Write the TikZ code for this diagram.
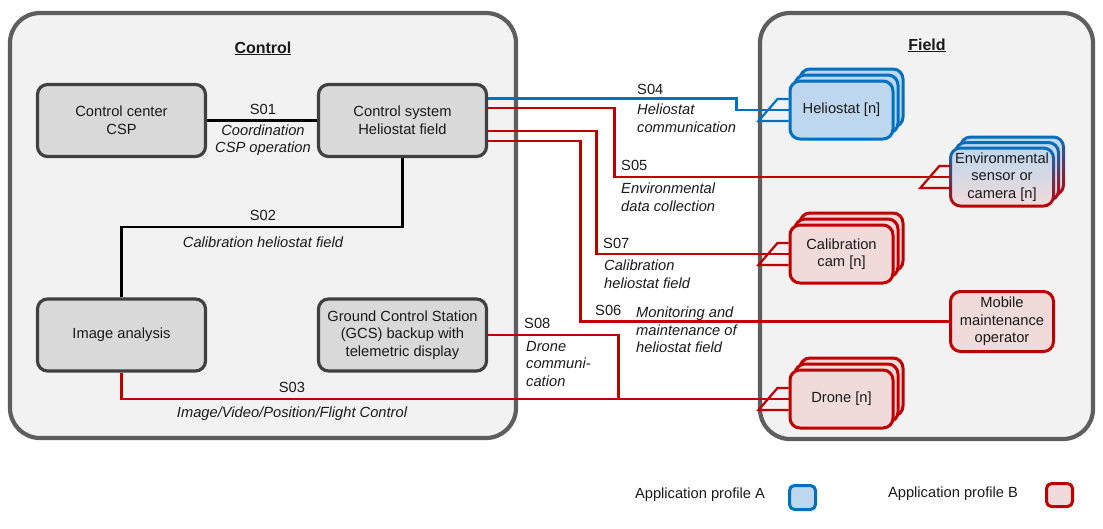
\documentclass[tikz,border=0pt]{standalone}
\usepackage{fontspec}
\setmainfont{Liberation Sans}
\usetikzlibrary{calc}
\definecolor{cborder}{HTML}{5E5E5E}
\definecolor{cfill}{HTML}{F2F2F2}
\definecolor{gfill}{HTML}{D9D9D9}
\definecolor{gborder}{HTML}{404040}
\definecolor{bline}{HTML}{0070C0}
\definecolor{bfill}{HTML}{BDD7EE}
\definecolor{rline}{HTML}{C00000}
\definecolor{rfill}{HTML}{F0DADA}
\definecolor{txt}{HTML}{1A1A1A}
\newcommand\stackback[3]{%
  \foreach \k in {2,1}{\path[#3] ({#1-51.5+5*\k},{#2-29-6*\k}) rectangle ++(103,58);}%
}
\newcommand\gradlayer[2]{%
  \shade[top color=bfill, bottom color=rfill, rounded corners=10pt] ({#1-51.5},{#2-29}) rectangle ++(103,58);
  \shade[top color=bline, bottom color=rline, even odd rule, rounded corners=11.5pt] ({#1-53},{#2-30.5}) rectangle ++(106,61) [rounded corners=8.5pt] ({#1-50},{#2-27.5}) rectangle ++(100,55);
}
\newcommand\forkmark[2]{%
  \draw[#2, line width=2.2pt, line join=miter] ([yshift=11pt]#1.west) -- ++(-11,0) -- ++(-19,22) -- ++(30,0);%
}
\begin{document}
\begin{tikzpicture}[x=1pt,y=-1pt, font=\fontsize{14.7}{17.6}\selectfont, text=txt,
  container/.style={draw=cborder, fill=cfill, line width=4.2pt, rounded corners=30pt},
  graybox/.style={draw=gborder, fill=gfill, line width=3.2pt, rounded corners=10pt, minimum width=168pt, minimum height=72pt, align=center, inner sep=2pt},
  bstack/.style={draw=bline, fill=bfill, line width=3pt, rounded corners=10pt},
  rstack/.style={draw=rline, fill=rfill, line width=3pt, rounded corners=10pt},
  front/.style={minimum width=103pt, minimum height=58pt, align=center, inner sep=1pt},
  lab/.style={font=\fontsize{14.7}{17.6}\selectfont\itshape, inner sep=0pt},
  slab/.style={inner sep=0pt},
  kconn/.style={draw=black, line width=2.4pt},
  bconn/.style={draw=bline, line width=2.8pt},
  rconn/.style={draw=rline, line width=2.8pt},
  title/.style={font=\fontsize{16}{19}\selectfont\bfseries, anchor=base, inner sep=0pt}]
\useasboundingbox (0,0) rectangle (1103,528);
\path[container] (10,13) rectangle (516,438);
\path[container] (760,13) rectangle (1093,439);
\node[title] (tctrl) at (263,53) {\underline{Control}};
\node[title] (tfield) at (927,50) {\underline{Field}};
% control boxes
\node[graybox] (ccsp) at (121.5,120.5) {Control center\\CSP};
\node[graybox] (csys) at (402.5,120.5) {Control system\\Heliostat field};
\node[graybox] (img) at (121.5,335) {Image analysis};
\node[graybox] (gcs) at (402.5,335) {Ground Control Station\\(GCS) backup with\\telemetric display};
% field boxes
\stackback{841.5}{110}{bstack}
\node[bstack, front] (helio) at (841.5,110) {Heliostat [n]};
\foreach \k in {2,1}{\gradlayer{1002+5*\k}{177-5.5*\k}}
\gradlayer{1002}{177}
\node[front] (env) at (1002,177) {Environmental\\sensor or\\camera [n]};
\stackback{841.5}{254}{rstack}
\node[rstack, front] (calib) at (841.5,254) {Calibration\\cam [n]};
\node[rstack, front, minimum height=60pt] (mobile) at (1002,321.5) {Mobile\\maintenance\\operator};
\stackback{841.5}{399}{rstack}
\node[rstack, front] (drone) at (841.5,399) {Drone [n]};
% connectors
\draw[kconn] (ccsp) -- (csys);
\draw[kconn] (csys.south) -- ++(0,69) -| (img.north);
\draw[rconn] (img.south) |- (drone.west);
\draw[rconn] (gcs.east) -| ([xshift=-170pt]drone.west) -- (drone.west);
\draw[bconn] ([yshift=22pt]csys.east) -| ([xshift=-52pt]helio.west) -- (helio.west);
\draw[rconn] ([yshift=12.5pt]csys.east) -| ([xshift=-335.5pt]env.west) -- (env.west);
\draw[rconn] ([yshift=-10.5pt]csys.east) -| ([xshift=-192pt]calib.west) -- (calib.west);
\draw[rconn] ([yshift=-20.5pt]csys.east) -| ([xshift=-368.5pt]mobile.west) -- (mobile.west);
\forkmark{helio}{bline}
\forkmark{env}{rline}
\forkmark{calib}{rline}
\forkmark{drone}{rline}
% labels
\node[slab, anchor=base] (s01) at (263,114) {S01};
\node[lab, align=center] (s01t) at (263,140) {Coordination\\CSP operation};
\node[slab, anchor=base] (s02) at (263,220) {S02};
\node[lab, anchor=base] (s02t) at (263,247) {Calibration heliostat field};
\node[slab, anchor=base] (s03) at (292,392) {S03};
\node[lab, anchor=base] (s03t) at (292,417) {Image/Video/Position/Flight Control};
\node[slab, anchor=base west] (s04) at (637,94) {S04};
\node[lab, align=left, anchor=west] (s04t) at (637,118) {Heliostat\\communication};
\node[slab, anchor=base west] (s05) at (621,170) {S05};
\node[lab, align=left, anchor=west] (s05t) at (621,197) {Environmental\\data collection};
\node[slab, anchor=base west] (s07) at (603,248) {S07};
\node[lab, align=left, anchor=west] (s07t) at (604,274) {Calibration\\heliostat field};
\node[slab, anchor=base west] (s06) at (595,315) {S06};
\node[lab, align=left, anchor=west] (s06t) at (636,330) {Monitoring and\\maintenance of\\heliostat field};
\node[slab, anchor=base west] (s08) at (524,328) {S08};
\node[lab, align=left, anchor=west] (s08t) at (526,364) {Drone\\communi-\\cation};
% legend
\node[slab] (la) at (700,495) {Application profile A};
\node[draw=bline, fill=bfill, line width=3pt, rounded corners=5pt, minimum width=26pt, minimum height=24pt, inner sep=0pt] (lba) at (802.5,497.5) {};
\node[slab] (lb) at (953,494) {Application profile B};
\node[draw=rline, fill=rfill, line width=3pt, rounded corners=5pt, minimum width=26pt, minimum height=23pt, inner sep=0pt] (lbb) at (1059.5,495) {};
\end{tikzpicture}
\end{document}
